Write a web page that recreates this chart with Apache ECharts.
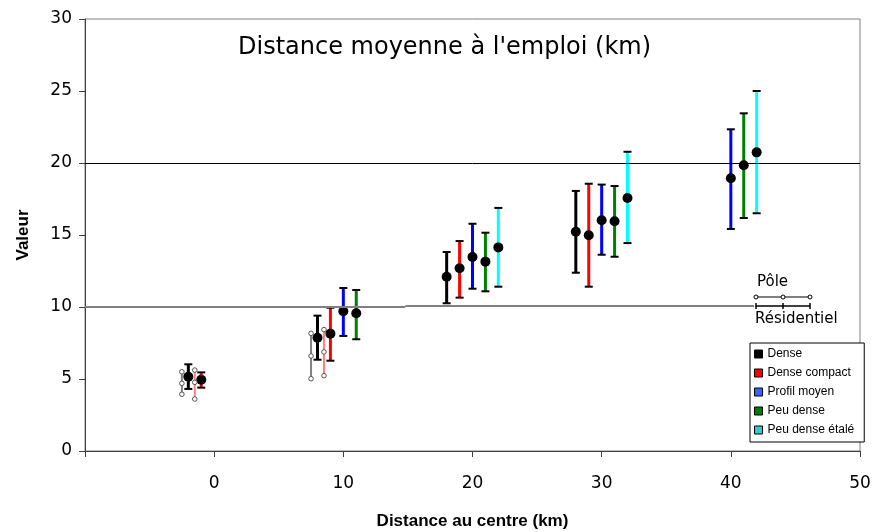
<!DOCTYPE html>
<html lang="fr">
<head>
  <meta charset="UTF-8">
  <title>Distance moyenne à l'emploi</title>
  <script src="https://cdn.jsdelivr.net/npm/echarts@6/dist/echarts.min.js"></script>
  <style>
    html, body { margin: 0; padding: 0; background: #fff; }
    #main { width: 874px; height: 532px; }
  </style>
</head>
<body>
<div id="main"></div>
<script>
  // categories (profils) and colours
  var categories = ['Dense', 'Dense compact', 'Profil moyen', 'Peu dense', 'Peu dense étalé'];
  var colors = ['#000000', '#ff0000', '#0000ff', '#008000', '#00ffff'];
  var legendColors = ['#000000', '#ff0000', '#3366ff', '#008000', '#33cccc'];

  // résidentiel : position x, moyenne, bas, haut
  var resX    = [[-2, 8, 18, 28], [-1, 9, 19, 29], [10, 20, 30, 40], [11, 21, 31, 41], [22, 32, 42]];
  var resMean = [[5.16, 7.87, 12.10, 15.23], [4.95, 8.15, 12.69, 14.98], [9.70, 13.47, 16.02, 18.94], [9.56, 13.15, 15.95, 19.84], [14.14, 17.57, 20.74]];
  var resLow  = [[4.31, 6.34, 10.26, 12.38], [4.40, 6.27, 10.65, 11.41], [7.99, 11.27, 13.63, 15.42], [7.76, 11.09, 13.49, 16.18], [11.41, 14.44, 16.51]];
  var resHigh = [[6.02, 9.40, 13.82, 18.06], [5.46, 9.95, 14.58, 18.56], [11.32, 15.78, 18.50, 22.34], [11.18, 15.16, 18.40, 23.45], [16.88, 20.78, 25.0]];

  // pôle : position x, bas, milieu, haut (Dense, Dense compact)
  var poleX    = [[-2.5, 7.5], [-1.5, 8.5]];
  var poleLow  = [[3.94, 5.02], [3.61, 5.23]];
  var poleMid  = [[4.70, 6.60], [4.77, 6.88]];
  var poleHigh = [[5.50, 8.17], [5.62, 8.43]];
  var poleColors = ['#808080', '#ff8080'];

  // lignes de référence
  var fullLine = 20;
  var segLines = [[[-10, 10], [14.8, 10]], [[14.8, 10.1], [41.8, 10.1]]];

  var xTicks = [0, 10, 20, 30, 40, 50];

  function renderRes(params, api) {
    var x = api.value(0);
    var top = api.coord([x, api.value(3)]);
    var bot = api.coord([x, api.value(2)]);
    var mid = api.coord([x, api.value(1)]);
    var c = api.visual('color');
    return {
      type: 'group',
      children: [
        { type: 'line', shape: { x1: top[0], y1: top[1], x2: bot[0], y2: bot[1] }, style: { stroke: c, lineWidth: 3 } },
        { type: 'line', shape: { x1: top[0] - 4, y1: top[1], x2: top[0] + 4, y2: top[1] }, style: { stroke: '#000', lineWidth: 2 } },
        { type: 'line', shape: { x1: bot[0] - 4, y1: bot[1], x2: bot[0] + 4, y2: bot[1] }, style: { stroke: '#000', lineWidth: 2 } },
        { type: 'circle', shape: { cx: mid[0], cy: mid[1], r: 5 }, style: { fill: '#000' } }
      ]
    };
  }

  function renderPole(params, api) {
    var x = api.value(0);
    var lo = api.coord([x, api.value(1)]);
    var mi = api.coord([x, api.value(2)]);
    var hi = api.coord([x, api.value(3)]);
    var c = api.visual('color');
    var dot = function (p) {
      return { type: 'circle', shape: { cx: p[0], cy: p[1], r: 2.3 }, style: { fill: '#fff', stroke: '#555', lineWidth: 1 } };
    };
    return {
      type: 'group',
      children: [
        { type: 'line', shape: { x1: hi[0], y1: hi[1], x2: lo[0], y2: lo[1] }, style: { stroke: c, lineWidth: 2 } },
        dot(hi), dot(mi), dot(lo)
      ]
    };
  }

  var series = [];
  categories.forEach(function (name, i) {
    var rows = resX[i].map(function (x, j) { return [x, resMean[i][j], resLow[i][j], resHigh[i][j]]; });
    series.push({
      name: name,
      type: 'custom',
      renderItem: renderRes,
      itemStyle: { color: colors[i] },
      encode: { x: 0, y: [1, 2, 3] },
      data: rows,
      z: 3
    });
  });
  poleX.forEach(function (xs, i) {
    series.push({
      name: 'pole' + i,
      type: 'custom',
      renderItem: renderPole,
      itemStyle: { color: poleColors[i] },
      encode: { x: 0, y: [1, 2, 3] },
      data: xs.map(function (x, j) { return [x, poleLow[i][j], poleMid[i][j], poleHigh[i][j]]; }),
      z: 3
    });
  });
  // lignes horizontales
  series.push({
    name: 'ref',
    type: 'custom',
    renderItem: function () { return null; },
    data: [],
    markLine: {
      silent: true,
      symbol: 'none',
      label: { show: false },
      data: [
        { yAxis: fullLine, lineStyle: { color: '#000', width: 1, type: 'solid' } }
      ].concat(segLines.map(function (s) {
        return [{ coord: s[0], lineStyle: { color: '#808080', width: 2, type: 'solid' } }, { coord: s[1] }];
      }))
    },
    z: 1
  });

  var chart = echarts.init(document.getElementById('main'));
  chart.setOption({
    animation: false,
    backgroundColor: '#fff',
    title: {
      text: "Distance moyenne à l'emploi (km)",
      left: 233,
      top: 31,
      textStyle: { fontFamily: 'DejaVu Sans', fontSize: 24, fontWeight: 'normal', color: '#000' }
    },
    grid: {
      left: 85, right: 14, top: 19, bottom: 81,
      outerBoundsMode: 'none',
      containLabel: false,
      show: true, borderColor: '#808080', borderWidth: 1
    },
    legend: {
      data: categories.map(function (n, i) { return { name: n, itemStyle: { color: legendColors[i] } }; }),
      orient: 'vertical',
      left: 750,
      top: 343,
      icon: 'rect',
      itemWidth: 8,
      itemHeight: 8,
      itemGap: 7,
      padding: [5, 10, 6, 4],
      borderColor: '#000',
      borderWidth: 1,
      backgroundColor: '#fff',
      selectedMode: false,
      itemStyle: { borderColor: '#000', borderWidth: 1 },
      textStyle: { fontFamily: 'Liberation Sans', fontSize: 12, color: '#000' }
    },
    xAxis: {
      type: 'value',
      min: -10,
      max: 50,
      interval: 10,
      name: 'Distance au centre (km)',
      nameLocation: 'middle',
      nameGap: 62,
      nameTextStyle: { fontFamily: 'Liberation Sans', fontSize: 17, fontWeight: 'bold', color: '#000' },
      axisLine: { onZero: false, lineStyle: { color: '#404040', width: 1 } },
      axisTick: { inside: false, length: 6, lineStyle: { color: '#404040' } },
      axisLabel: {
        margin: 24,
        fontFamily: 'DejaVu Sans',
        fontSize: 17,
        color: '#000',
        formatter: function (v) { return xTicks.indexOf(v) >= 0 ? String(v) : ''; }
      },
      splitLine: { show: false }
    },
    yAxis: {
      type: 'value',
      min: 0,
      max: 30,
      interval: 5,
      name: 'Valeur',
      nameLocation: 'middle',
      nameGap: 53,
      nameTextStyle: { fontFamily: 'Liberation Sans', fontSize: 17, fontWeight: 'bold', color: '#000' },
      axisLine: { show: true, onZero: false, lineStyle: { color: '#404040', width: 1 } },
      axisTick: { show: true, inside: false, length: 6, lineStyle: { color: '#404040' } },
      axisLabel: { margin: 13, fontFamily: 'DejaVu Sans', fontSize: 17, color: '#000' },
      splitLine: { show: false }
    },
    graphic: [
      { type: 'text', left: 757, top: 275, style: { text: 'Pôle', font: '15px "DejaVu Sans"', fill: '#000' } },
      { type: 'line', shape: { x1: 756, y1: 297, x2: 810, y2: 297 }, style: { stroke: '#000', lineWidth: 1 } },
      { type: 'circle', shape: { cx: 756, cy: 297, r: 2 }, style: { fill: '#fff', stroke: '#000', lineWidth: 1 } },
      { type: 'circle', shape: { cx: 783, cy: 297, r: 2 }, style: { fill: '#fff', stroke: '#000', lineWidth: 1 } },
      { type: 'circle', shape: { cx: 810, cy: 297, r: 2 }, style: { fill: '#fff', stroke: '#000', lineWidth: 1 } },
      { type: 'line', shape: { x1: 756, y1: 306, x2: 810, y2: 306 }, style: { stroke: '#000', lineWidth: 1.5 } },
      { type: 'line', shape: { x1: 756, y1: 303, x2: 756, y2: 309 }, style: { stroke: '#000', lineWidth: 1.5 } },
      { type: 'line', shape: { x1: 783, y1: 303, x2: 783, y2: 309 }, style: { stroke: '#000', lineWidth: 1.5 } },
      { type: 'line', shape: { x1: 810, y1: 303, x2: 810, y2: 309 }, style: { stroke: '#000', lineWidth: 1.5 } },
      { type: 'text', left: 755, top: 312, style: { text: 'Résidentiel', font: '15px "DejaVu Sans"', fill: '#000' } }
    ],
    series: series
  });
</script>
</body>
</html>
